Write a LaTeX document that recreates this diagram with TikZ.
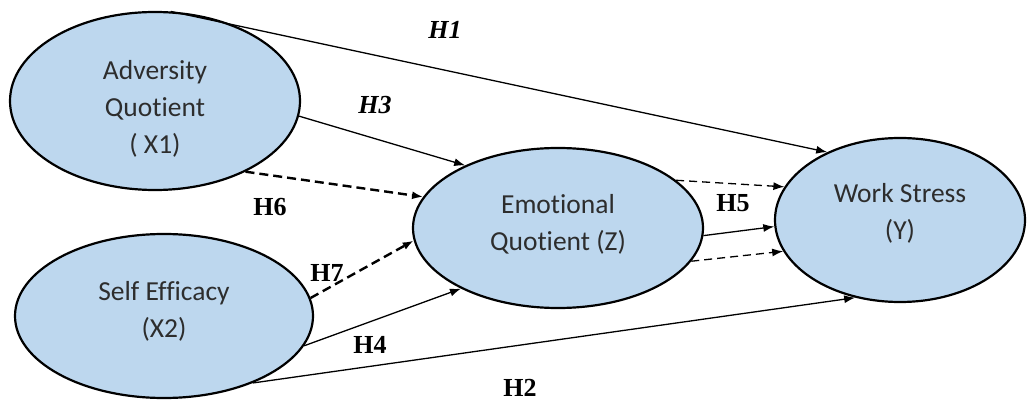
\documentclass[tikz,border=0pt]{standalone}
\usepackage{fontspec}
\setmainfont{Carlito}[Ligatures={NoCommon}]
\newfontfamily\hfont{Liberation Serif}
\usetikzlibrary{shapes.geometric,arrows.meta}
\definecolor{ellfill}{RGB}{189,215,238}
\definecolor{txt}{RGB}{45,45,45}
\tikzset{
  latent/.style={ellipse, draw=black, line width=2.2pt, fill=ellfill, inner sep=0pt},
  ltext/.style={text=txt, align=center, inner sep=0pt, font=\fontsize{27.5}{37}\selectfont},
  path/.style={line width=1.3pt, -{Latex[length=11pt,width=8pt]}},
  dpath/.style={line width=2.4pt, dash pattern=on 9pt off 5pt, -{Latex[length=11pt,width=8pt]}},
  tdpath/.style={line width=1.3pt, dash pattern=on 8pt off 5pt, -{Latex[length=11pt,width=8pt]}},
  hlab/.style={font=\hfont\bfseries\fontsize{26}{26}\selectfont, inner sep=0pt},
}
\begin{document}
\begin{tikzpicture}[x=1pt,y=-1pt]
\useasboundingbox (0,0) rectangle (1027,403);
\node[latent, minimum width=290pt, minimum height=178pt] (X1) at (155,101) {};
\node[latent, minimum width=298pt, minimum height=164pt] (X2) at (164,316) {};
\node[latent, minimum width=290pt, minimum height=160pt] (Z) at (558,228) {};
\node[latent, minimum width=250pt, minimum height=164pt] (Y) at (900,220) {};
\node[ltext] (X1t) at (155,109) {Adversity\\Quotient\\( X1)};
\node[ltext] (X2t) at (164,311) {Self Efficacy\\(X2)};
\node[ltext] (Zt) at (558,224) {Emotional\\Quotient (Z)};
\node[ltext] (Yt) at (900,213) {Work Stress\\(Y)};

\draw[path] (X1.80.6) -- (Y.137.8);
\draw[path] (X1.-6.3) -- (Z.146.3);
\draw[dpath] (X1.-38.6) -- (Z.167.5);
\draw[dpath] (X2.7.4) -- (Z.185.2);
\draw[path] (X2.-12) -- (Z.212);
\draw[path] (X2.-37.5) -- (Y.240);
\draw[tdpath] (Z.22) -- (Y.164.6);
\draw[path] (Z.-3.2) -- (Y.183.3);
\draw[tdpath] (Z.-14.1) -- (Y.195.4);

\node[hlab] (h1) at (445,30) {\itshape H1};
\node[hlab] (h3) at (375,105) {\itshape H3};
\node[hlab] (h6) at (270,207) {H6};
\node[hlab] (h7) at (327,273) {H7};
\node[hlab] (h4) at (370,345) {H4};
\node[hlab] (h2) at (520,388) {H2};
\node[hlab] (h5) at (733,203) {H5};
\end{tikzpicture}
\end{document}
